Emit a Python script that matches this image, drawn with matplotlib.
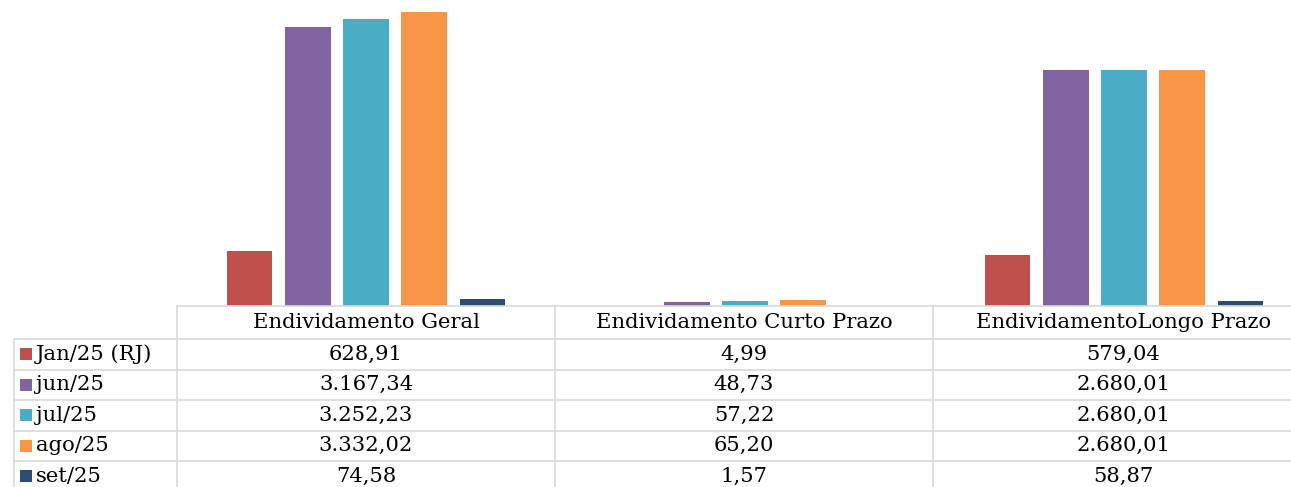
import matplotlib
matplotlib.use("Agg")
import matplotlib.pyplot as plt
from matplotlib.lines import Line2D
from matplotlib.patches import Rectangle

categories = ["Endividamento Geral", "Endividamento Curto Prazo", "EndividamentoLongo Prazo"]
series_names = ["Jan/25 (RJ)", "jun/25", "jul/25", "ago/25", "set/25"]
jan25 = [628.91, 4.99, 579.04]
jun25 = [3167.34, 48.73, 2680.01]
jul25 = [3252.23, 57.22, 2680.01]
ago25 = [3332.02, 65.20, 2680.01]
set25 = [74.58, 1.57, 58.87]
series_values = [jan25, jun25, jul25, ago25, set25]
colors = ["#C0504D", "#8064A2", "#4BACC6", "#F79646", "#2C4D75"]

def fmt(v):
    s = f"{v:,.2f}"
    return s.replace(",", "X").replace(".", ",").replace("X", ".")

W, H = 1291, 487
fig = plt.figure(figsize=(W / 100, H / 100), dpi=100)
FONT = "DejaVu Serif"
FS = 15.2

def fx(x):
    return x / W

def fy(y):
    return 1 - y / H

# plot area (extends slightly past the right edge of the image, as in the reference)
x0, x1 = 176.5, 1313.5
ybase = 306
ax = fig.add_axes([fx(x0), fy(ybase), fx(x1) - fx(x0), fy(0) - fy(ybase)])
ax.set_xlim(-0.5, 2.5)
ax.set_ylim(0, 3468)
step = 0.1537
bw = 0.121
for i, (vals, c) in enumerate(zip(series_values, colors)):
    xs = [k + (i - 2) * step for k in range(len(categories))]
    ax.bar(xs, vals, width=bw, color=c, edgecolor="none")
ax.axis("off")

# table
grid_c = "#D9D9D9"
lw = 1.2
col_x = [177, 555, 933, 1313.5]
row_y = [306, 339, 369.5, 400, 430.7, 461, 492]
legend_left = 14

def hline(y, xa, xb):
    fig.add_artist(Line2D([fx(xa), fx(xb)], [fy(y), fy(y)], color=grid_c, lw=lw,
                          transform=fig.transFigure))

def vline(x, ya, yb):
    fig.add_artist(Line2D([fx(x), fx(x)], [fy(ya), fy(yb)], color=grid_c, lw=lw,
                          transform=fig.transFigure))

hline(row_y[0], col_x[0], W)
for y in row_y[1:6]:
    hline(y, legend_left, W)
vline(legend_left, row_y[1], H)
for x in col_x[:3]:
    vline(x, row_y[0], H)

# header
for j, cat in enumerate(categories):
    cx = (col_x[j] + col_x[j + 1]) / 2
    cy = (row_y[0] + row_y[1]) / 2
    fig.text(fx(cx), fy(cy), cat, ha="center", va="center", fontsize=FS, family=FONT,
             color="#000000")

# rows
for i, (name, vals, c) in enumerate(zip(series_names, series_values, colors)):
    cy = (row_y[i + 1] + row_y[i + 2]) / 2
    if i == 4:
        cy = 476
    fig.add_artist(Rectangle((fx(20), fy(cy + 6)), fx(32) - fx(20), fy(cy - 6) - fy(cy + 6),
                             facecolor=c, edgecolor="none", transform=fig.transFigure))
    fig.text(fx(36), fy(cy), name, ha="left", va="center", fontsize=FS, family=FONT,
             color="#000000")
    for j, v in enumerate(vals):
        cx = (col_x[j] + col_x[j + 1]) / 2
        fig.text(fx(cx), fy(cy), fmt(v), ha="center", va="center", fontsize=FS,
                 family=FONT, color="#000000")

fig.savefig("out.png", dpi=100, facecolor="white")
